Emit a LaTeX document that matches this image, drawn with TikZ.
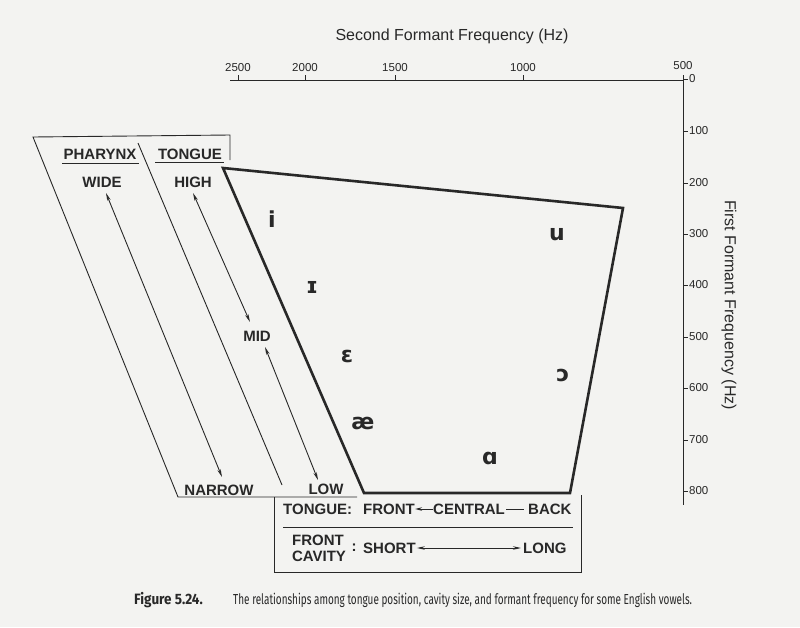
\documentclass[tikz,border=0pt]{standalone}
\usepackage{fontspec}
\setmainfont{Liberation Sans}
\newfontfamily\ipafont{DejaVu Sans}
\newfontfamily\capfont{Fira Sans}
\usetikzlibrary{arrows.meta}
\definecolor{paper}{RGB}{243,243,241}
\definecolor{ink}{RGB}{40,40,40}
\begin{document}
\begin{tikzpicture}[x=1pt,y=-1pt,
  lbl/.style={font=\fontsize{15}{17}\selectfont\bfseries, text=ink, inner sep=0pt},
  vow/.style={font=\ipafont\bfseries\fontsize{22}{24}\selectfont, text=ink, inner sep=0pt},
  num/.style={font=\fontsize{11.5}{13}\selectfont, text=ink, inner sep=0pt},
  ttl/.style={font=\fontsize{16}{18}\selectfont, text=ink, inner sep=0pt},
  thinline/.style={draw=ink, line width=0.9pt},
  thickline/.style={draw=ink, line width=2.6pt, line join=miter},
  dblarrow/.style={thinline, {Stealth[length=8pt,width=3.5pt]}-{Stealth[length=8pt,width=3.5pt]}},
  onearrow/.style={thinline, -{Stealth[length=7pt,width=3.5pt]}}
]
\fill[paper] (0,0) rectangle (800,627);
\useasboundingbox (0,0) rectangle (800,627);

% ---- axes ----
\coordinate (axL) at (230,80);
\coordinate (axC) at (683,80);
\coordinate (axT) at (683,75);
\coordinate (axB) at (683,505);
\draw[thinline] (axL) -- (axC);
\draw[thinline] (axT) -- (axB);
\node[ttl] (f2title) at (452,36) {Second Formant Frequency (Hz)};
\node[ttl, rotate=-90] (f1title) at (729,305) {First Formant Frequency (Hz)};

\foreach \xx/\lab in {238/2500,305/2000,395/1500,523/1000}{
  \draw[thinline] (\xx,80) -- (\xx,75);
  \node[num] (top\lab) at (\xx,68) {\lab};
}
\node[num] (top500) at (683,66) {500};
\foreach \yy/\lab in {79/0,131/100,183/200,234/300,285/400,337/500,388/600,440/700,491/800}{
  \draw[thinline] (683,\yy) -- (688,\yy);
  \node[num, anchor=west] (r\lab) at (689,\yy) {\lab};
}

% ---- left frame ----
\coordinate (bxTL) at (33,137);
\coordinate (bxTR) at (230,135);
\coordinate (bxRR) at (230,160);
\coordinate (bxBL) at (178,497);
\coordinate (bxBR) at (357,497);
\draw[thinline] (bxRR) -- (bxTR) -- (bxTL) -- (bxBL) -- (bxBR);
\coordinate (dvT) at (138,143);
\coordinate (dvB) at (282,485);
\draw[thinline] (dvT) -- (dvB);

\node[lbl] (phar) at (100,154) {PHARYNX};
\node[lbl] (tong) at (190,154) {TONGUE};
\draw[thinline] (62,163) -- (139,163);
\draw[thinline] (155,162) -- (224,162);
\node[lbl] (wide) at (102,182) {WIDE};
\node[lbl] (high) at (193,182) {HIGH};
\node[lbl] (mid) at (257,336) {MID};
\node[lbl] (narrow) at (219,490) {NARROW};
\node[lbl] (low) at (326,489) {LOW};

\coordinate (aW) at (106,193);
\coordinate (aN) at (222,477);
\coordinate (aH) at (193,193);
\coordinate (aM1) at (250,322);
\coordinate (aM2) at (265,347);
\coordinate (aL) at (318,480);
\draw[dblarrow] (aW) -- (aN);
\draw[dblarrow] (aH) -- (aM1);
\draw[dblarrow] (aM2) -- (aL);

% ---- vowel quadrilateral ----
\coordinate (qTL) at (223,168);
\coordinate (qTR) at (623,208);
\coordinate (qBR) at (570,493);
\coordinate (qBL) at (364,493);
\draw[thickline] (qTL) -- (qTR) -- (qBR) -- (qBL) -- cycle;

\node[vow] (vi) at (272,219) {i};
\node[vow] (vu) at (557,235) {u};
\node[vow] (vI) at (312,287) {ɪ};
\node[vow] (veps) at (347,356) {ɛ};
\node[vow] (vopen) at (563,375) {ɔ};
\node[vow] (vae) at (363,423) {æ};
\node[vow] (va) at (490,458) {ɑ};

% ---- bottom box ----
\coordinate (bbTL) at (274,497);
\coordinate (bbBL) at (274,572);
\coordinate (bbBR) at (581,572);
\coordinate (bbTR) at (581,495);
\draw[thinline] (bbTL) -- (bbBL) -- (bbBR) -- (bbTR);
\coordinate (bbML) at (283,527);
\coordinate (bbMR) at (573,527);
\draw[thinline] (bbML) -- (bbMR);

\node[lbl, anchor=west] (rowtong) at (283,509) {TONGUE:};
\node[lbl, anchor=west] (rfront) at (363,509) {FRONT};
\node[lbl, anchor=west] (rcentral) at (433,509) {CENTRAL};
\node[lbl, anchor=west] (rback) at (528,509) {BACK};
\draw[onearrow] (rcentral.west) -- (rfront.east);
\draw[thinline] ([xshift=1pt]rcentral.east) -- ([xshift=-4pt]rback.west);

\node[lbl] (cfront) at (318,540) {FRONT};
\node[lbl] (ccav) at (319,556) {CAVITY};
\node[lbl] (ccolon) at (354,548) {:};
\node[lbl, anchor=west] (rshort) at (363,548) {SHORT};
\node[lbl, anchor=west] (rlong) at (523,548) {LONG};
\draw[dblarrow] ([xshift=1pt]rshort.east) -- ([xshift=-2pt]rlong.west);

% ---- caption ----
\node[anchor=west, inner sep=0pt, text=ink] (capfig) at (134,600)
  {\scalebox{0.9}[1]{\capfont\fontsize{15}{17}\selectfont\bfseries Figure 5.24.}};
\node[anchor=west, inner sep=0pt, text=ink] (captext) at (233,600)
  {\scalebox{0.687}[1]{\capfont\fontsize{14.5}{17}\selectfont The relationships among tongue position, cavity size, and formant frequency for some English vowels.}};
\end{tikzpicture}
\end{document}
